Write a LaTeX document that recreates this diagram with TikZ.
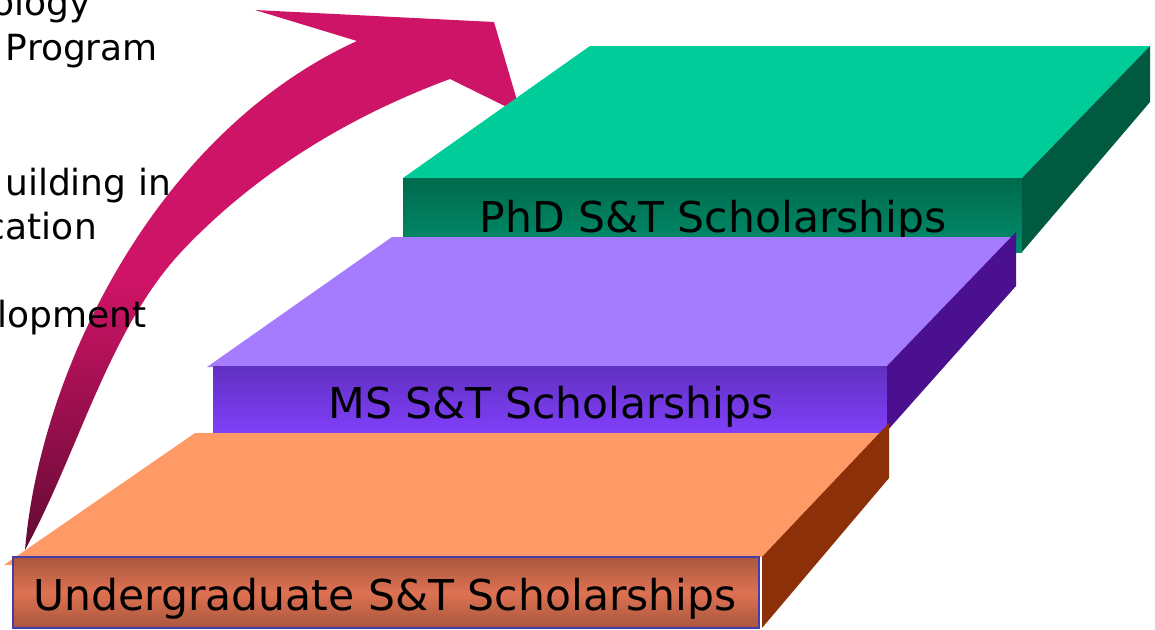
\documentclass[tikz,border=0pt]{standalone}
\usepackage{fontspec}
\setmainfont{DejaVu Sans}
\definecolor{phdtop}{RGB}{0,204,153}
\definecolor{phdfronta}{RGB}{0,106,76}
\definecolor{phdfrontb}{RGB}{0,142,108}
\definecolor{phdside}{RGB}{0,90,64}
\definecolor{mstop}{RGB}{166,124,255}
\definecolor{msfronta}{RGB}{96,48,192}
\definecolor{msfrontb}{RGB}{128,64,250}
\definecolor{msside}{RGB}{75,16,143}
\definecolor{ugtop}{RGB}{255,153,102}
\definecolor{ugfronta}{RGB}{168,86,62}
\definecolor{ugfrontb}{RGB}{222,114,82}
\definecolor{ugside}{RGB}{139,48,8}
\definecolor{ugborder}{RGB}{70,60,170}
\definecolor{arrowtop}{RGB}{206,20,102}
\definecolor{arrowbot}{RGB}{100,10,52}
\tikzset{
        slabtext/.style={inner sep=0pt,anchor=base,font=\fontsize{42.5}{50}\selectfont},
        listtext/.style={inner sep=0pt,anchor=base east,font=\fontsize{36}{44}\selectfont}
}

\begin{document}
\begin{tikzpicture}[x=1pt,y=-1pt]
        \useasboundingbox (0,0) rectangle (1155,629);
        \clip (0,0) rectangle (1155,629);
        \shade[top color=arrowtop,bottom color=arrowbot,middle color=arrowtop] (357,41) -- (255,10) -- (494,22) -- (521,114) -- (450,79)
            .. controls (350,116) and (257,172) .. (183,250)
            .. controls (109,328) and (79,451) .. (25,550)
            .. controls (40,370) and (157,132) .. cycle;
        \node[listtext] (ology) at (91,15) {ology};
        \node[listtext] (program) at (158,60) {Program};
        \node[listtext] (building) at (171,195) {uilding in};
        \node[listtext] (cation) at (97,239) {cation};
        \node[listtext] (lopment) at (147,327) {lopment};
        \fill[phdtop] (590,46) -- (1150,46) -- (1022,178) -- (403,178) -- cycle;
        \shade[top color=phdfronta,bottom color=phdfrontb] (403,178) rectangle (1022,252);
        \fill[phdside] (1022,178) -- (1150,46) -- (1150,102) -- (1022,252) -- cycle;
        \node[slabtext] (phd) at (713,232) {PhD S\&T Scholarships};
        \fill[mstop] (392,237) -- (1016,237) -- (887,366) -- (207,367) -- cycle;
        \shade[top color=msfronta,bottom color=msfrontb] (213,366) rectangle (887,433);
        \fill[msside] (887,366) -- (1016,232) -- (1016,286) -- (887,431) -- cycle;
        \node[slabtext] (ms) at (551,418) {MS S\&T Scholarships};
        \fill[ugtop] (195,433) -- (889,433) -- (762,557) -- (4,565) -- cycle;
        \shade[top color=ugfronta,bottom color=ugfronta,middle color=ugfrontb] (13,557) rectangle (759,628);
        \draw[ugborder,line width=1.5pt] (13,557) rectangle (759,628);
        \fill[ugside] (762,557) -- (889,423) -- (889,478) -- (762,628) -- cycle;
        \node[slabtext] (ug) at (385,610) {Undergraduate S\&T Scholarships};
\end{tikzpicture}
\end{document}
